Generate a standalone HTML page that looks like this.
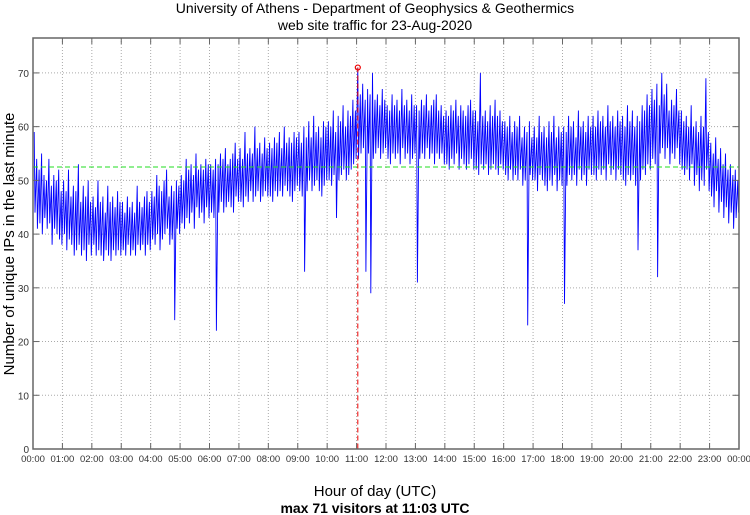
<!DOCTYPE html>
<html><head><meta charset="utf-8"><style>
body{margin:0;background:#fff;}
svg{display:block;font-family:"Liberation Sans",sans-serif;}
</style></head><body>
<svg id="chart" width="750" height="515">
<text x="375" y="13" text-anchor="middle" font-size="14" fill="#000">University of Athens - Department of Geophysics &amp; Geothermics</text>
<text x="375" y="30" text-anchor="middle" font-size="14" fill="#000">web site traffic for 23-Aug-2020</text>
<text transform="translate(14,244) rotate(-90)" text-anchor="middle" font-size="15" fill="#000">Number of unique IPs in the last minute</text>
<text x="375" y="496" text-anchor="middle" font-size="15" fill="#000">Hour of day (UTC)</text>
<text x="375" y="513" text-anchor="middle" font-size="14" font-weight="bold" fill="#000">max 71 visitors at 11:03 UTC</text>
<g id="grid"></g><g id="series"></g><g id="axes"></g>
</svg>
<script>
const hourLabels=["00:00","01:00","02:00","03:00","04:00","05:00","06:00","07:00","08:00","09:00","10:00","11:00","12:00","13:00","14:00","15:00","16:00","17:00","18:00","19:00","20:00","21:00","22:00","23:00","00:00"];
const yTicks=[0,10,20,30,40,50,60,70];
const meanValue=52.5;
const binMax=[
59,54,52,55,51,50,54,49,51,50,52,48,
50,48,52,47,49,48,53,46,49,47,50,46,
47,45,50,46,47,44,49,46,47,45,48,46,
46,44,47,45,46,44,49,46,45,47,48,46,
48,47,51,49,48,50,52,47,49,48,50,49,
51,50,54,52,53,51,55,52,53,52,54,53,
53,52,54,53,55,54,56,53,54,55,57,54,
56,54,59,55,56,55,60,56,57,55,58,56,
57,56,58,57,59,56,60,57,58,57,59,58,
59,57,60,58,61,58,62,59,60,58,61,60,
61,60,63,59,62,61,64,60,63,62,65,63,
71,66,68,65,67,66,70,65,66,64,67,65,
64,63,66,64,65,63,67,64,65,63,66,64,
64,63,65,64,66,63,64,65,66,63,64,62,
63,62,64,63,65,62,64,63,62,64,65,63,
63,61,70,62,63,61,64,62,65,62,63,61,
61,60,62,59,61,60,62,58,60,59,61,58,
60,58,62,59,60,58,61,59,62,58,60,59,
60,59,62,60,61,58,63,60,61,59,62,60,
62,60,63,61,62,60,64,61,62,60,63,61,
62,60,64,61,63,60,62,61,64,63,66,64,
67,65,68,64,70,66,68,63,65,64,67,63,
63,61,62,60,64,60,61,59,62,60,69,59,
57,55,58,54,56,53,55,52,53,51,52,50];
const binMin=[
44,41,42,40,43,41,42,38,41,40,39,38,
40,37,39,38,36,37,38,36,37,35,38,36,
38,36,37,36,35,37,36,35,37,36,37,36,
37,36,38,36,37,36,38,37,38,36,38,37,
39,38,40,37,39,40,41,38,39,24,41,40,
42,41,43,42,44,41,45,43,44,42,45,43,
44,43,22,44,46,44,45,46,45,44,47,46,
46,45,47,46,48,46,47,48,46,47,48,47,
47,46,48,47,48,47,49,48,47,46,48,49,
48,47,33,48,50,48,49,50,48,47,49,50,
50,49,51,43,50,51,52,50,51,52,53,54,
54,55,56,33,55,29,54,55,56,54,55,56,
54,53,55,54,55,53,56,54,55,53,54,55,
31,54,55,54,56,54,55,53,55,54,55,53,
53,52,54,53,55,52,54,53,52,53,54,52,
52,51,53,52,53,51,52,53,52,51,53,52,
51,50,52,50,51,50,52,49,50,23,51,50,
50,48,51,50,49,48,50,49,51,48,50,49,
27,49,51,50,51,49,52,50,51,49,52,51,
51,50,52,51,52,50,53,51,52,50,52,51,
50,49,51,50,51,49,37,50,52,51,53,52,
54,53,32,55,56,54,56,53,55,54,56,53,
52,51,52,50,53,49,51,48,50,49,52,48,
47,45,48,44,46,43,45,42,44,41,43,44];
const minutesPerBin=5;
const NS="http://www.w3.org/2000/svg";
const L=33,R=739,T=38,B=449,YMAX=76.5;
const xS=m=>L+(R-L)*m/1440;
const yS=v=>B-(B-T)*v/YMAX;
function mk(tag,attrs,parent){const e=document.createElementNS(NS,tag);for(const k in attrs)e.setAttribute(k,attrs[k]);parent.appendChild(e);return e;}
const grid=document.getElementById('grid'),axes=document.getElementById('axes'),series=document.getElementById('series');
mk('rect',{x:L,y:T,width:R-L,height:B-T,fill:'#fff'},grid);
yTicks.forEach(v=>{
 const y=yS(v);
 if(v>0){const g=mk('line',{x1:L,x2:R,y1:y,y2:y,stroke:'#aaa','stroke-dasharray':'1,2'},grid);
 
 }
 mk('line',{x1:L,x2:L+6,y1:y,y2:y,stroke:'#666'},axes);
 mk('line',{x1:R,x2:R-6,y1:y,y2:y,stroke:'#666'},axes);
 const t=mk('text',{x:L-4,y:y+4,'text-anchor':'end','font-size':'10',fill:'#333'},axes);t.textContent=v;
 
 
});
hourLabels.forEach((lab,i)=>{
 const x=xS(i*60);
 if(i>0&&i<24){const g=mk('line',{x1:x,x2:x,y1:T,y2:B,stroke:'#aaa','stroke-dasharray':'1,2'},grid);
 
 }
 mk('line',{x1:x,x2:x,y1:B,y2:B-6,stroke:'#666'},axes);
 mk('line',{x1:x,x2:x,y1:T,y2:T+6,stroke:'#666'},axes);
 const t=mk('text',{x:x,y:B+13,'text-anchor':'middle','font-size':'9.5',fill:'#333'},axes);t.textContent=lab;
 
 
});
const fr=mk('rect',{x:L,y:T,width:R-L,height:B-T,fill:'none',stroke:'#666','stroke-width':1.5},axes);


const pts=[];
binMax.forEach((hi,i)=>{
 const m=i*minutesPerBin;
 pts.push(xS(m+2.5).toFixed(1)+','+yS(hi).toFixed(1));
 pts.push(xS(m+4).toFixed(1)+','+yS(binMin[i]).toFixed(1));
});
const line=mk('polyline',{points:pts.join(' '),fill:'none',stroke:'#00f','stroke-width':0.9},series);


const mean=mk('line',{x1:L,x2:R,y1:yS(meanValue),y2:yS(meanValue),stroke:'#2d2','stroke-dasharray':'5,3'},series);


let mi=0;binMax.forEach((v,i)=>{if(v>binMax[mi])mi=i;});
const mx=xS(mi*minutesPerBin+2.5);
const vl=mk('line',{x1:mx,x2:mx,y1:yS(binMax[mi]),y2:B,stroke:'#e00','stroke-dasharray':'5,3'},series);


const c=mk('circle',{cx:mx,cy:yS(binMax[mi]),r:2.5,fill:'none',stroke:'#e00','stroke-width':1.2},series);


</script>
</body></html>
